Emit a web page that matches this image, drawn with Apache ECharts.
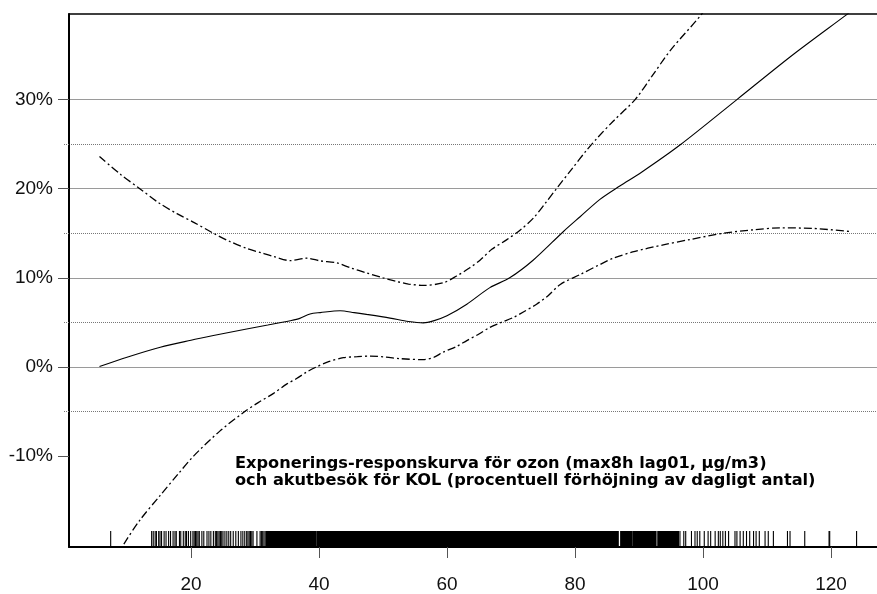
<!DOCTYPE html>
<html>
<head>
<meta charset="utf-8">
<script src="https://cdn.jsdelivr.net/npm/echarts@6/dist/echarts.min.js"></script>
<style>html,body{margin:0;padding:0;background:#fff;overflow:hidden}#c{width:877px;height:594px}</style>
</head>
<body>
<div id="c"></div>
<script>
// ---- data ----
var xTicks = [20, 40, 60, 80, 100, 120];
var yTicks = [-10, 0, 10, 20, 30];
var yMinor = [-5, 5, 15, 25];
var gridSolid = [0, 10, 20, 30];
var gridDotted = [-5, 5, 15, 25];
var annotation = ['Exponerings-responskurva för ozon (max8h lag01, µg/m3)',
                  'och akutbesök för KOL (procentuell förhöjning av dagligt antal)'];

var estimate = [[5.7,0.05],[10,1.1],[15.2,2.22],[20,3.0],[23.5,3.52],[28.7,4.26],[32,4.7],[35.5,5.19],[37,5.45],[38.6,5.95],[40.2,6.1],[43.3,6.3],[45.5,6.1],[47.4,5.9],[51.1,5.48],[54,5.1],[56.3,4.95],[58,5.2],[60,5.74],[63.1,7.04],[66.7,8.9],[69.8,10.0],[73.5,12.0],[78.2,15.2],[80.8,16.85],[83.9,18.8],[87,20.3],[90.4,21.85],[96.4,24.9],[105.3,30],[114,35],[122.4,39.5],[123.5,40.1]];

var upper = [[5.7,23.6],[9,21.6],[12,20.0],[15,18.4],[17.8,17.2],[20.5,16.2],[23.5,15.0],[26,14.1],[28.7,13.3],[31,12.8],[32.9,12.4],[35.5,11.93],[38.1,12.2],[40.2,11.9],[42.8,11.67],[45,11.1],[47.4,10.56],[50,10.0],[52.1,9.6],[54,9.3],[56.3,9.15],[59.4,9.44],[61.5,10.2],[63.5,11.1],[65.2,12.0],[67,13.2],[69.3,14.26],[71.5,15.4],[73.5,16.7],[75.5,18.5],[77.1,20.0],[79.5,22.2],[81.8,24.3],[83.5,25.7],[86,27.6],[89.4,30.0],[92,32.6],[95,35.6],[99.8,39.6],[105,44.8],[113,52.5],[123,62]];

var lower = [[5.7,-24.5],[9.4,-20.0],[12,-17.2],[15.2,-14.4],[18,-12.0],[20.4,-10.0],[24.5,-7.2],[28.4,-5.0],[30.5,-4.0],[32.9,-2.96],[35,-1.9],[36.5,-1.3],[38,-0.6],[39.6,0.0],[41.5,0.6],[43.8,1.04],[46,1.15],[48,1.22],[50.5,1.1],[52.7,0.93],[56.3,0.82],[58,1.1],[59.4,1.67],[61.5,2.3],[63.1,2.96],[65,3.7],[66.7,4.44],[68.5,5.0],[70.4,5.56],[72,6.2],[74,7.04],[75.8,8.0],[77.7,9.26],[80.8,10.37],[83.9,11.5],[86,12.2],[89,12.9],[93.8,13.7],[98,14.3],[103.2,15.0],[108,15.4],[112,15.6],[117,15.55],[122.9,15.2]];

var rugValues = [7.45,
13.85,14.1,14.4,14.6,14.95,15.16,15.4,15.8,16.1,16.5,16.8,17.2,17.5,17.7,18.2,18.4,18.8,19.1,19.3,19.6,19.95,20.3,20.5,20.7,20.9,21.1,21.3,21.7,22.0,22.5,22.8,23.1,23.5,23.8,24.0,24.2,24.4,24.6,24.8,25.0,25.3,25.6,25.9,26.2,26.6,27.0,27.4,27.8,28.1,28.4,28.7,28.9,29.1,29.3,29.5,29.7,30.3,30.8,31.0,31.2,31.4,31.6,31.8,32.0,
32.1,32.4,32.6,32.9,33.1,33.4,33.6,33.8,34.1,34.3,34.6,34.8,35.0,35.3,35.5,35.8,36.0,36.2,36.5,36.7,37.0,37.2,37.4,37.7,37.9,38.1,38.5,38.7,39.0,39.2,39.4,39.9,40.1,40.4,40.6,40.9,41.1,41.3,41.6,41.8,42.1,42.3,42.5,42.8,43.0,43.3,43.5,43.7,44.0,44.2,44.5,44.7,44.9,45.2,45.4,45.7,45.9,46.1,46.4,46.6,46.9,47.1,47.3,47.6,47.8,48.1,48.3,48.5,48.7,49.1,49.3,49.5,49.8,50.0,50.3,50.5,50.7,51.0,51.2,51.5,51.7,51.9,52.2,52.4,52.7,52.9,53.1,53.4,53.6,53.9,54.1,54.3,54.6,54.8,55.1,55.3,55.5,55.8,56.0,56.3,56.5,56.7,57.0,57.2,57.5,57.7,57.9,58.2,58.4,58.7,58.9,59.1,59.4,59.6,59.9,60.1,60.3,60.6,60.8,61.1,61.3,61.5,61.8,62.0,62.3,62.5,62.7,63.0,63.2,63.5,63.7,63.9,64.2,64.4,64.7,64.9,65.1,65.4,65.6,65.9,66.1,66.3,66.6,66.8,67.1,67.3,67.5,67.8,68.0,68.3,68.5,68.7,69.0,69.2,69.5,69.7,69.9,70.2,70.4,70.7,70.9,71.1,71.4,71.6,71.9,72.1,72.3,72.6,72.8,73.1,73.3,73.5,73.8,74.0,74.3,74.5,74.7,75.0,75.2,75.5,75.7,75.9,76.2,76.4,76.7,76.9,77.1,77.4,77.6,77.9,78.1,78.3,78.6,78.8,79.1,79.3,79.5,79.8,80.0,80.3,80.5,80.7,81.0,81.2,81.5,81.7,81.9,82.1,82.5,82.6,83.0,83.2,83.5,83.7,83.9,84.2,84.6,84.8,85.1,85.3,85.5,85.8,86.0,86.3,86.6,87.3,87.5,87.8,88.0,88.3,88.5,88.7,89.2,89.4,89.6,89.9,90.1,90.3,90.6,90.8,91.1,91.3,91.5,91.8,92.0,92.3,92.5,93.1,93.3,93.6,93.8,94.0,94.3,94.5,94.8,95.0,95.2,95.5,95.7,96.0,
96.4,97.0,97.3,98.2,98.75,99.1,99.5,100.2,100.8,101.2,101.9,102.4,102.7,103.1,103.5,104.0,105.0,105.3,105.8,106.3,106.8,107.3,107.9,108.3,108.8,109.7,110.2,111.0,113.2,113.6,115.9,119.7,119.8,124.0];

// ---- chart ----
var X_MIN = 0.9375, X_MAX = 127.19, Y_MIN = -20.2, Y_MAX = 39.6;
var FONT = '"Liberation Sans", Arial, sans-serif';
var chart = echarts.init(document.getElementById('c'), null, {renderer: 'canvas'});

var markData = [];
gridSolid.forEach(function (v) {
  markData.push({yAxis: v, lineStyle: {color: '#9a9a9a', width: 1.2, type: 'solid'}});
});
gridDotted.forEach(function (v) {
  markData.push({yAxis: v, lineStyle: {color: '#777', width: 1, type: [1, 1]}});
});

// rug: [value, gap to nearest neighbour] so that tightly packed lines fill the band
var rugData = rugValues.map(function (v, i) {
  var prev = i > 0 ? v - rugValues[i - 1] : 99;
  var next = i < rugValues.length - 1 ? rugValues[i + 1] - v : 99;
  return [v, Math.min(prev, next)];
});

function renderRug(params, api) {
  var v = api.value(0);
  var gap = api.value(1);
  var p = api.coord([v, Y_MIN]);
  var dense = v > 32.05 && v < 96.2 && gap < 0.35;
  var w = dense ? 3.2 : 1.1;
  return {
    type: 'rect',
    shape: {x: p[0] - w / 2, y: p[1] - 16, width: w, height: 16},
    style: {fill: '#000'}
  };
}

var dashDot = [8, 3, 2, 3];

chart.setOption({
  animation: false,
  backgroundColor: '#fff',
  title: {
    text: annotation.join('\n'),
    left: 235, top: 455,
    padding: 0,
    textStyle: {fontFamily: '"DejaVu Sans", sans-serif', fontSize: 16.2, fontWeight: 'bold', color: '#000', lineHeight: 17}
  },
  grid: {left: 69, right: 0, top: 14, bottom: 42.3, containLabel: false},
  xAxis: [{
    type: 'value', min: X_MIN, max: X_MAX, position: 'bottom',
    axisLine: {show: true, onZero: false, lineStyle: {color: '#000', width: 2}},
    axisTick: {show: true, customValues: xTicks, length: 11, lineStyle: {color: '#555', width: 1}},
    axisLabel: {show: true, customValues: xTicks, fontFamily: FONT, fontSize: 19, color: '#111', margin: 28},
    splitLine: {show: false}
  }, {
    type: 'value', min: X_MIN, max: X_MAX, position: 'top',
    axisLine: {show: true, onZero: false, lineStyle: {color: '#000', width: 1.5}},
    axisTick: {show: false}, axisLabel: {show: false}, splitLine: {show: false}
  }],
  yAxis: [{
    type: 'value', min: Y_MIN, max: Y_MAX, position: 'left',
    axisLine: {show: true, onZero: false, lineStyle: {color: '#000', width: 2}},
    axisTick: {show: true, customValues: yTicks, length: 11, lineStyle: {color: '#555', width: 1}},
    axisLabel: {show: true, customValues: yTicks, formatter: '{value}%', fontFamily: FONT, fontSize: 19, color: '#111', margin: 16},
    splitLine: {show: false}
  }, {
    type: 'value', min: Y_MIN, max: Y_MAX, position: 'left',
    axisLine: {show: false},
    axisTick: {show: true, customValues: yMinor, length: 5, lineStyle: {color: '#777', width: 1, type: [1, 1]}},
    axisLabel: {show: false}, splitLine: {show: false}
  }],
  series: [{
    name: 'rug', type: 'custom', silent: true, z: 1,
    renderItem: renderRug,
    encode: {x: 0},
    data: rugData,
    markLine: {silent: true, symbol: ['none', 'none'], label: {show: false}, data: markData, z: 0}
  }, {
    name: 'estimate', type: 'line', showSymbol: false, smooth: 0.3, silent: true, z: 3,
    lineStyle: {color: '#000', width: 1.1, type: 'solid'},
    data: estimate
  }, {
    name: 'upper', type: 'line', showSymbol: false, smooth: 0.3, silent: true, z: 3,
    lineStyle: {color: '#000', width: 1.3, type: dashDot},
    data: upper
  }, {
    name: 'lower', type: 'line', showSymbol: false, smooth: 0.3, silent: true, z: 3,
    lineStyle: {color: '#000', width: 1.3, type: dashDot},
    data: lower
  }]
});
</script>
</body>
</html>
